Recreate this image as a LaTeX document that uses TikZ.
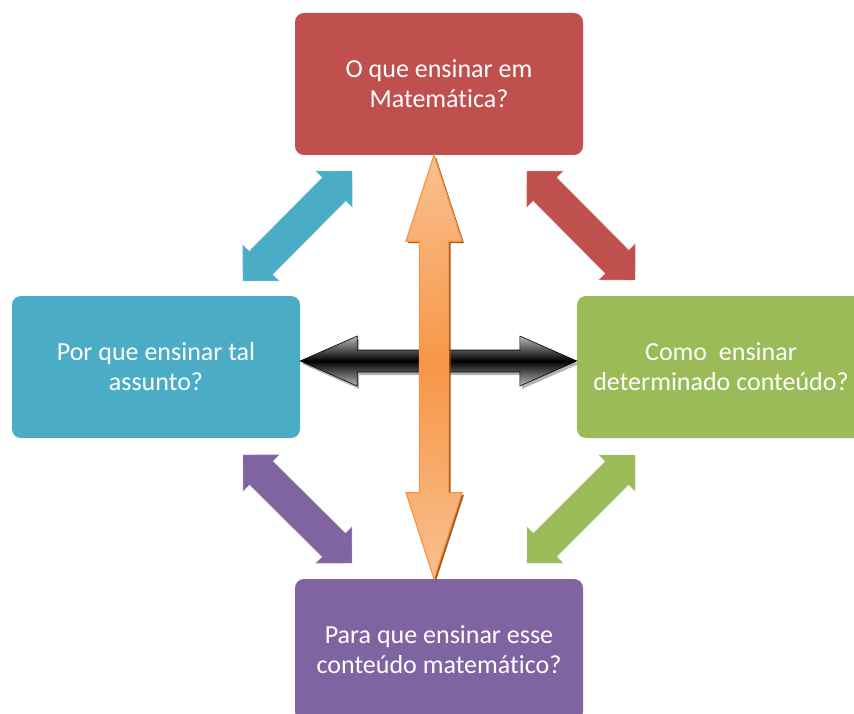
\documentclass[tikz,border=0pt]{standalone}
\usepackage{fontspec}
\setmainfont{Carlito}[Ligatures=NoCommon]
\usetikzlibrary{shadows,calc}
\definecolor{qred}{HTML}{C0504D}
\definecolor{qblue}{HTML}{4BACC6}
\definecolor{qgreen}{HTML}{9BBB59}
\definecolor{qpurple}{HTML}{8064A2}
\definecolor{qorange}{HTML}{F79646}
\definecolor{qpeach}{HTML}{FAC090}
\definecolor{qbrown}{HTML}{984807}

% [style]{from}{to}{half shaft}{half head}{head length}
\newcommand{\blockarrow}[6][]{%
  \path[#1] (#2)
    -- ($(#2)!#6!(#3)!#5!90:(#3)$) -- ($(#2)!#6!(#3)!#4!90:(#3)$)
    -- ($(#3)!#6!(#2)!#4!-90:(#2)$) -- ($(#3)!#6!(#2)!#5!-90:(#2)$)
    -- (#3)
    -- ($(#3)!#6!(#2)!#5!90:(#2)$) -- ($(#3)!#6!(#2)!#4!90:(#2)$)
    -- ($(#2)!#6!(#3)!#4!-90:(#3)$) -- ($(#2)!#6!(#3)!#5!-90:(#3)$)
    -- cycle;}

\begin{document}
\begin{tikzpicture}
[x=1pt, y=-1pt,
 boxDecorate/.style={shape=rectangle, rounded corners=9pt, minimum width=288pt, minimum height=142pt, inner sep=0pt, text=white, align=center, font=\fontsize{26}{30}\selectfont},
 diagDecorate/.style={fill=#1, draw=#1!70!white, line width=0.4pt},
 crossDecorate/.style={draw=black, line width=0.6pt, top color=gray!55, bottom color=gray!55, middle color=black,
   drop shadow={shadow xshift=2pt, shadow yshift=-3pt, fill=gray, opacity=0.6}},
 upDecorate/.style={draw=qorange, line width=1.2pt, top color=qpeach, bottom color=qpeach, middle color=qorange,
   drop shadow={shadow xshift=2pt, shadow yshift=-2pt, fill=qbrown, opacity=0.9}}]

 \useasboundingbox (0,0) rectangle (854,714);
 \clip (0,0) rectangle (854,714);

 \node (que) at (439,84) [boxDecorate, fill=qred] {O que ensinar em\\Matemática?};
 \node (porque) at (156,367) [boxDecorate, fill=qblue] {Por que ensinar tal\\assunto?};
 \node (como) at (721,367) [boxDecorate, fill=qgreen] {Como\ \ ensinar\\determinado conteúdo?};
 \node (para) at (439,650) [boxDecorate, fill=qpurple] {Para que ensinar esse\\conteúdo matemático?};

 % ends of the arrows
 \coordinate (blueA) at (243,281);  \coordinate (blueB) at (352,171);
 \coordinate (redA) at (527,171);   \coordinate (redB) at (635,280);
 \coordinate (purA) at (243,455);   \coordinate (purB) at (352,563);
 \coordinate (greA) at (635,455);   \coordinate (greB) at (527,563);
 \coordinate (leftTip) at ([yshift=6pt]porque.east);
 \coordinate (rightTip) at ([yshift=6pt]como.west);
 \coordinate (upTip) at ([xshift=-5pt]que.south);
 \coordinate (downTip) at ([xshift=-5pt]para.north);

 \blockarrow[diagDecorate=qblue]{blueA}{blueB}{16.5pt}{25.5pt}{25.5pt}
 \blockarrow[diagDecorate=qred]{redA}{redB}{16.5pt}{25.5pt}{25.5pt}
 \blockarrow[diagDecorate=qpurple]{purA}{purB}{16.5pt}{25.5pt}{25.5pt}
 \blockarrow[diagDecorate=qgreen]{greA}{greB}{16.5pt}{25.5pt}{25.5pt}

 \blockarrow[crossDecorate]{leftTip}{rightTip}{11pt}{25pt}{57pt}
 \blockarrow[upDecorate]{upTip}{downTip}{14.5pt}{28pt}{86pt}
\end{tikzpicture}
\end{document}
